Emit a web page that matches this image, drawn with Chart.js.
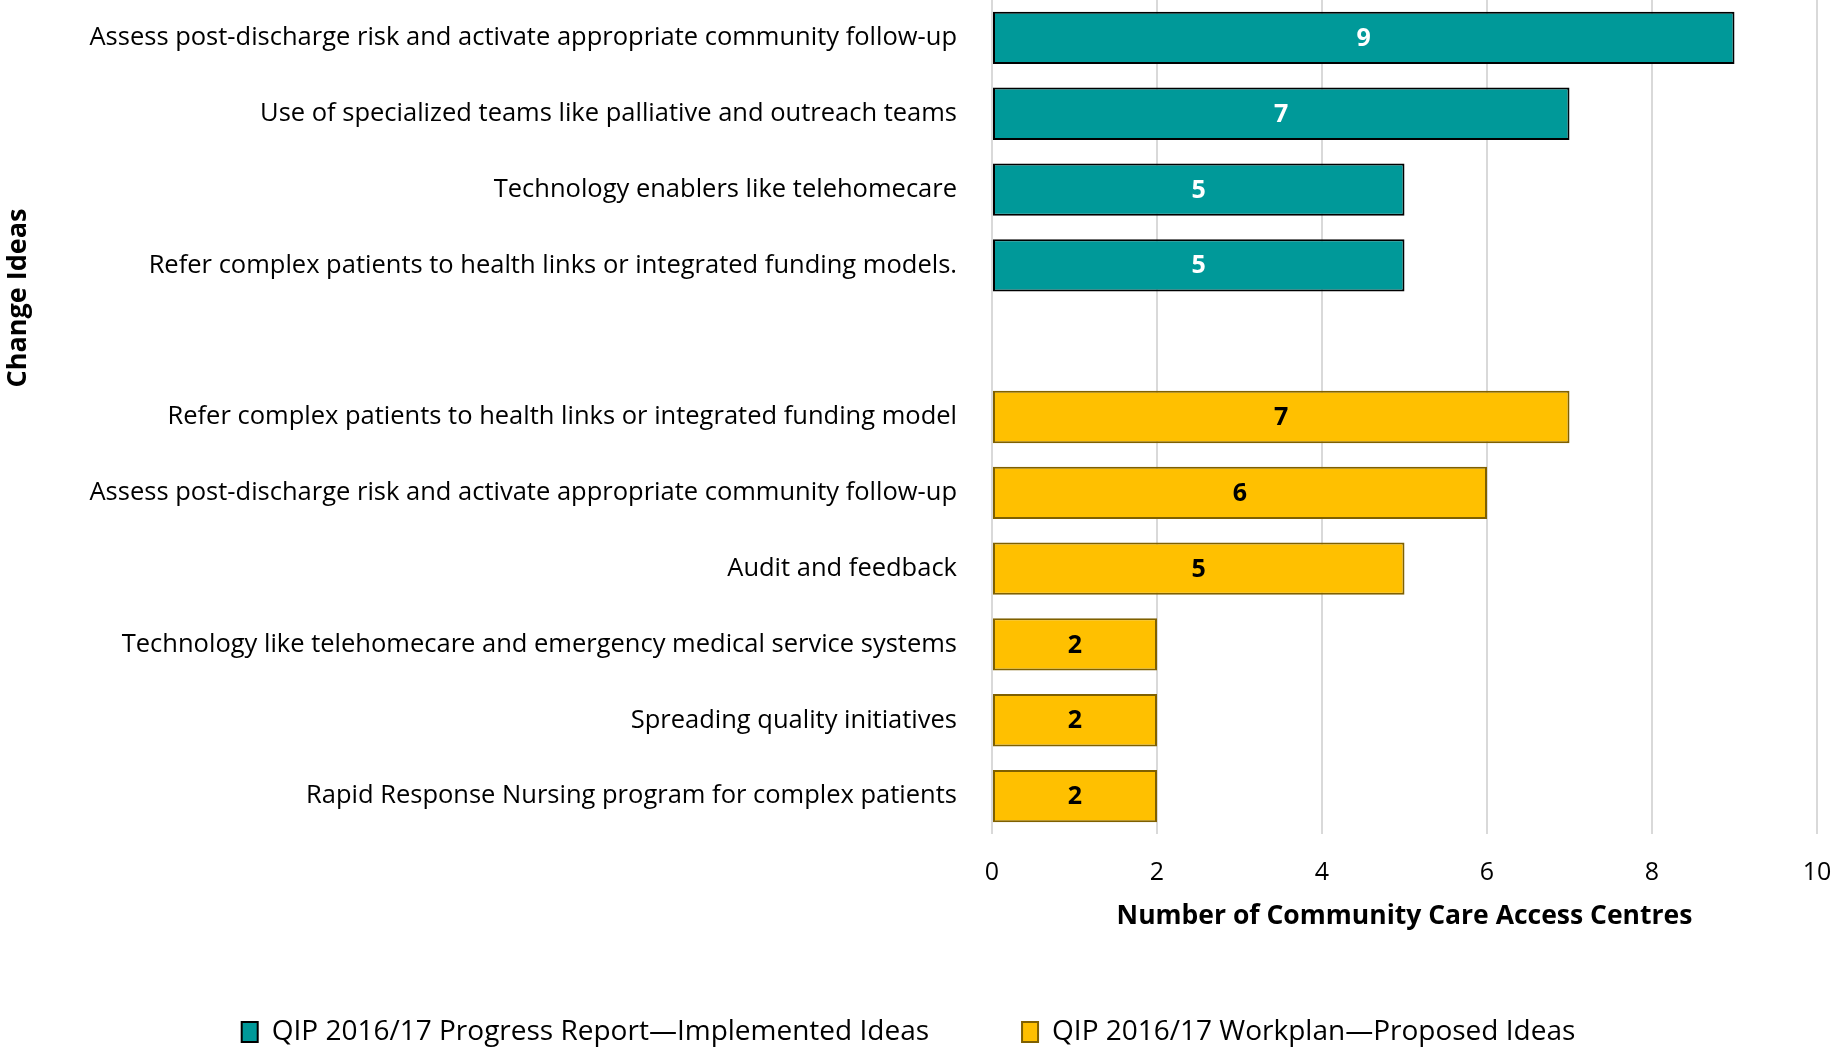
<!DOCTYPE html>
<html><head><meta charset="utf-8">
<script src="https://cdn.jsdelivr.net/npm/chart.js@4/dist/chart.umd.min.js"></script>
<style>html,body{margin:0;padding:0;background:#fff;overflow:hidden}</style>
</head><body>
<canvas id="c" width="1834" height="1048"></canvas>
<script>
const categories = [
  "Assess post-discharge risk and activate appropriate community follow-up",
  "Use of specialized teams like palliative and outreach teams",
  "Technology enablers like telehomecare",
  "Refer complex patients to health links or integrated funding models.",
  "",
  "Refer complex patients to health links or integrated funding model",
  "Assess post-discharge risk and activate appropriate community follow-up",
  "Audit and feedback",
  "Technology like telehomecare and emergency medical service systems",
  "Spreading quality initiatives",
  "Rapid Response Nursing program for complex patients"
];
const implementedValues = [9, 7, 5, 5, null, null, null, null, null, null, null];
const proposedValues = [null, null, null, null, null, 7, 6, 5, 2, 2, 2];
const seriesNames = ["QIP 2016/17 Progress Report\u2014Implemented Ideas", "QIP 2016/17 Workplan\u2014Proposed Ideas"];
const xMin = 0, xMax = 10, xStep = 2;
const xTitle = "Number of Community Care Access Centres";
const yTitle = "Change Ideas";

const FONT = "'Open Sans', sans-serif";

const valueLabels = {
  id: 'valueLabels',
  afterDatasetsDraw(chart) {
    const ctx = chart.ctx;
    ctx.save();
    ctx.font = "bold 25px " + FONT;
    ctx.textAlign = 'center';
    ctx.textBaseline = 'middle';
    chart.data.datasets.forEach((ds, di) => {
      const meta = chart.getDatasetMeta(di);
      meta.data.forEach((el, i) => {
        const v = ds.data[i];
        if (v === null || v === undefined) return;
        ctx.fillStyle = ds.labelColor;
        ctx.fillText(String(v), (el.x + el.base) / 2, el.y + 1);
      });
    });
    ctx.restore();
  }
};

const sideTitle = {
  id: 'sideTitle',
  afterDraw(chart) {
    const ctx = chart.ctx;
    ctx.save();
    ctx.font = "bold 27px " + FONT;
    ctx.fillStyle = '#000';
    ctx.textAlign = 'center';
    ctx.textBaseline = 'middle';
    ctx.translate(18, 298);
    ctx.rotate(-Math.PI / 2);
    ctx.fillText(yTitle, 0, 0);
    ctx.restore();
  }
};

new Chart(document.getElementById('c'), {
  type: 'bar',
  data: {
    labels: categories,
    datasets: [
      {
        label: seriesNames[0],
        data: implementedValues,
        backgroundColor: '#009999',
        borderColor: '#000000',
        borderWidth: 2,
        borderSkipped: false,
        labelColor: '#ffffff'
      },
      {
        label: seriesNames[1],
        data: proposedValues,
        backgroundColor: '#FFC000',
        borderColor: '#7F6000',
        borderWidth: 2,
        borderSkipped: false,
        labelColor: '#000000'
      }
    ]
  },
  options: {
    indexAxis: 'y',
    responsive: false,
    animation: false,
    devicePixelRatio: 1,
    grouped: false,
    barPercentage: 0.69,
    categoryPercentage: 1.0,
    layout: { padding: { left: 0, right: 17, top: -4, bottom: -8 } },
    scales: {
      x: {
        min: xMin, max: xMax,
        ticks: { stepSize: xStep, color: '#000', font: { family: FONT, size: 25 }, padding: 24 },
        grid: { color: '#d9d9d9', lineWidth: 2, drawTicks: false },
        border: { display: false },
        title: { display: true, text: xTitle, color: '#000', font: { family: FONT, size: 26.5, weight: 'bold' }, padding: { top: 0, bottom: -7.5 } },
        afterFit(scale) { scale.height = 91; scale.paddingLeft = 0; scale.paddingRight = 0; }
      },
      y: {
        ticks: { color: '#000', font: { family: FONT, size: 25.5 }, padding: 35, autoSkip: false },
        grid: { display: false, drawTicks: false },
        border: { display: false },
        afterFit(scale) { scale.width = 992; scale.paddingTop = 0; scale.paddingBottom = 0; }
      }
    },
    plugins: {
      legend: {
        position: 'bottom',
        labels: { color: '#000', font: { family: FONT, size: 28 }, boxWidth: 16, boxHeight: 20, padding: 93 }
      },
      tooltip: { enabled: false }
    }
  },
  plugins: [valueLabels, sideTitle]
});
</script>
</body></html>
